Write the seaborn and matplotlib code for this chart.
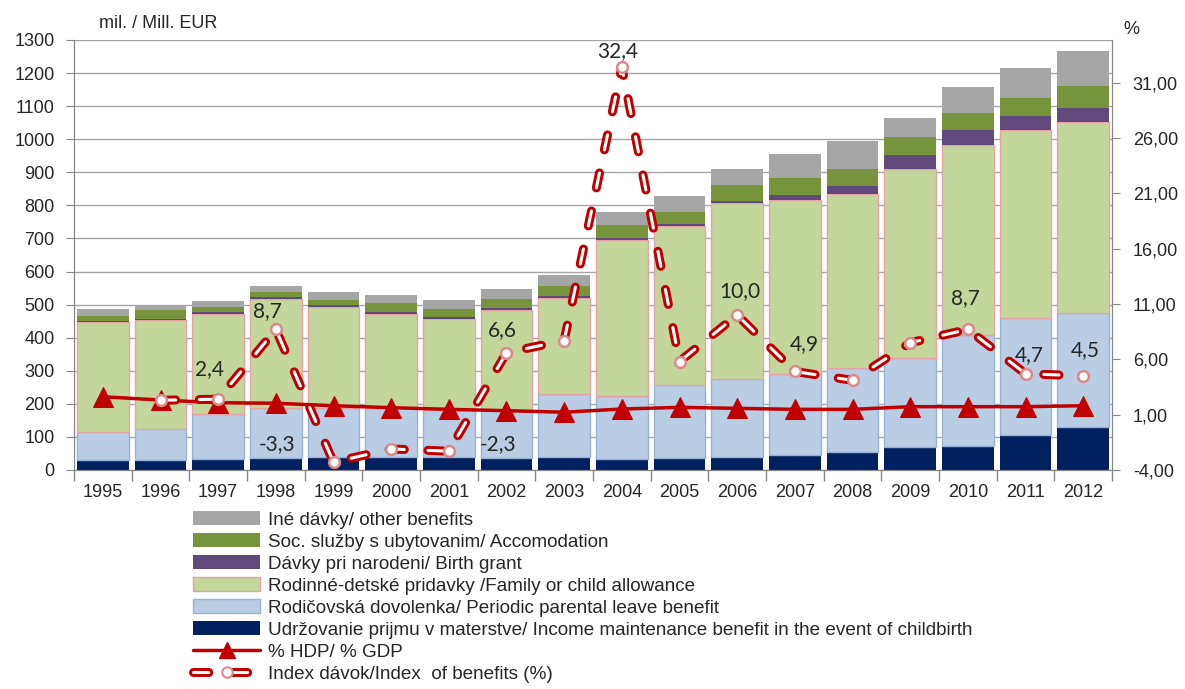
import numpy as np
import pandas as pd
import matplotlib
matplotlib.use("Agg")
import matplotlib.pyplot as plt
import matplotlib.patheffects as pe
from matplotlib.patches import Patch
from matplotlib.lines import Line2D
import seaborn as sns

# data (mil. EUR / %)
years = [str(y) for y in range(1995, 2013)]
income = [30, 30, 33, 37, 40, 40, 40, 36, 40, 32, 37, 40, 44, 54, 69, 74, 106, 129]
parental = [84, 93, 135, 149, 146, 146, 142, 146, 189, 193, 219, 236, 246, 253, 270, 335, 354, 345]
family = [332, 329, 304, 330, 306, 286, 274, 302, 290, 470, 482, 530, 526, 526, 570, 574, 568, 579]
birth = [4, 6, 6, 6, 6, 5, 7, 5, 7, 6, 7, 7, 15, 25, 42, 45, 42, 40]
accom = [15, 26, 16, 16, 17, 27, 24, 28, 30, 40, 36, 49, 51, 51, 56, 52, 55, 68]
other = [21, 14, 17, 18, 23, 25, 27, 31, 34, 40, 46, 48, 73, 85, 58, 79, 89, 106]
gdp_pct = [2.62, 2.32, 2.08, 2.03, 1.81, 1.63, 1.48, 1.36, 1.22, 1.51, 1.66, 1.57,
           1.48, 1.48, 1.72, 1.72, 1.72, 1.81]
index_years = years[1:]
index_pct = [2.3, 2.4, 8.7, -3.3, -2.1, -2.3, 6.6, 7.7, 32.4, 5.8, 10.0, 4.9, 4.1,
             7.5, 8.7, 4.7, 4.5]
# which index points carry a data label, and where the label sits (pixels)
label_years = ["1997", "1998", "1999", "2001", "2002", "2004", "2006", "2007", "2010", "2011", "2012"]
label_offsets = [(-9, 30), (-8, 18), (-56, 18), (49, 7), (-4, 23), (-4, 16), (3, 24),
                 (9, 27), (-2, 31), (4, 19), (2, 26)]
right_ticks = [-4, 1, 6, 11, 16, 21, 26, 31]
right_ticklabels = ["-4,00", "1,00", "6,00", "11,00", "16,00", "21,00", "26,00", "31,00"]

names = ["Iné dávky/ other benefits",
         "Soc. služby s ubytovanim/ Accomodation",
         "Dávky pri narodeni/ Birth grant",
         "Rodinné-detské pridavky /Family or child allowance",
         "Rodičovská dovolenka/ Periodic parental leave benefit",
         "Udržovanie prijmu v materstve/ Income maintenance benefit in the event of childbirth",
         "% HDP/ % GDP",
         "Index dávok/Index  of benefits (%)"]

df = pd.DataFrame({"year": years, "income": income, "parental": parental, "family": family,
                   "birth": birth, "accom": accom, "other": other})

sns.set_style("ticks")
plt.rcParams['font.family'] = ['Liberation Sans', 'DejaVu Sans']
plt.rcParams['lines.scale_dashes'] = False
grey = "#868686"
txt = "#262626"

fig, ax = plt.subplots(figsize=(11.85, 6.89), dpi=100)
fig.subplots_adjust(left=74 / 1185, right=1112 / 1185, bottom=1 - 470 / 689, top=1 - 40 / 689)

# stacked bars, bottom to top
stack = [("income", "#002060", "#002060", 0),
         ("parental", "#B9CDE5", "#95B3D7", 1),
         ("family", "#C3D69B", "#E6A3A3", 1),
         ("birth", "#604A7B", "#604A7B", 0),
         ("accom", "#77933C", "#77933C", 0),
         ("other", "#A6A6A6", "#A6A6A6", 0)]
bottom = np.zeros(len(years))
for col, fc, ec, lw in stack:
    sns.barplot(data=df, x="year", y=col, color=fc, saturation=1, errorbar=None,
                width=0.9, bottom=bottom, edgecolor=ec, linewidth=lw, ax=ax)
    bottom = bottom + df[col].to_numpy()

ax.set(xlabel="", ylabel="")
ax.set_ylim(0, 1300)
ax.set_yticks(range(0, 1301, 100))
ax.set_xlim(-0.5, len(years) - 0.5)
ax.set_axisbelow(True)
ax.yaxis.grid(True, color="#A6A6A6", lw=1)
ax.set_xticks(np.arange(-0.5, len(years), 1), minor=True)
ax.tick_params(axis="x", which="major", length=0, pad=10, labelsize=13, labelcolor=txt)
ax.tick_params(axis="x", which="minor", length=8, color=grey, width=1)
ax.tick_params(axis="y", length=6, color=grey, pad=8, labelsize=13, labelcolor=txt)
for s in ["left", "bottom", "right", "top"]:
    ax.spines[s].set_color(grey)
ax.spines["top"].set_visible(False)

# lines on the right axis
ax2 = ax.twinx()
x = np.arange(len(years))
sns.lineplot(x=x, y=gdp_pct, ax=ax2, color="#C00000", lw=2.5, marker="^", markersize=14,
             markeredgecolor="#C00000", markerfacecolor="#C00000", zorder=3)

xi = np.arange(1, len(years))
outline = [pe.Stroke(linewidth=6.5, foreground="#C00000"), pe.Normal()]
sns.lineplot(x=xi, y=index_pct, ax=ax2, color="white", lw=2.2, linestyle=(0, (11, 17)),
             dash_capstyle="round", path_effects=outline, zorder=4)
sns.scatterplot(x=xi, y=index_pct, ax=ax2, s=60, color="white", edgecolor="#D98A8A",
                linewidth=1.8, zorder=5)

for yr, (dx, dy) in zip(label_years, label_offsets):
    i = years.index(yr)
    v = index_pct[i - 1]
    ax2.annotate(f"{v:.1f}".replace(".", ","), xy=(i, v), xytext=(dx, dy),
                 textcoords="offset pixels", ha="center", va="center",
                 fontsize=15, family=["Lato", "DejaVu Sans"], color=txt)

ax2.set(xlabel="", ylabel="")
ax2.set_ylim(-4, 34.85)
ax2.set_yticks(right_ticks)
ax2.set_yticklabels(right_ticklabels)
ax2.tick_params(axis="y", length=6, color=grey, pad=9, labelsize=13, labelcolor=txt)
for s in ["left", "bottom", "right", "top"]:
    ax2.spines[s].set_color(grey)
ax2.spines["top"].set_visible(False)

fig.text(158 / 1185, 1 - 23 / 689, "mil. / Mill. EUR", ha="center", va="center",
         fontsize=13, color=txt)
fig.text(1131 / 1185, 1 - 29 / 689, "%", ha="center", va="center", fontsize=13, color=txt)

# legend
handles = [Patch(facecolor=fc, edgecolor=ec, lw=lw) for _, fc, ec, lw in stack[::-1]]
handles.append(Line2D([], [], color="#C00000", lw=2.5, marker="^", markersize=12,
                      markeredgecolor="#C00000"))
dash_h = Line2D([], [], color="white", lw=2.2, linestyle=(0, (11, 17)),
                dash_capstyle="round", path_effects=outline)
dot_h = Line2D([], [], ls="", marker="o", markersize=7.5, markerfacecolor="white",
               markeredgecolor="#D98A8A", mew=1.5)
handles.append((dash_h, dot_h))
fig.legend(handles, names, loc="upper left", bbox_to_anchor=(193 / 1185, 1 - 511 / 689),
           frameon=False, fontsize=13.6, handlelength=3.55, handleheight=0.75,
           labelspacing=0.24, handletextpad=0.43, borderpad=0, borderaxespad=0,
           labelcolor=txt)

fig.savefig("out.png", dpi=100)
